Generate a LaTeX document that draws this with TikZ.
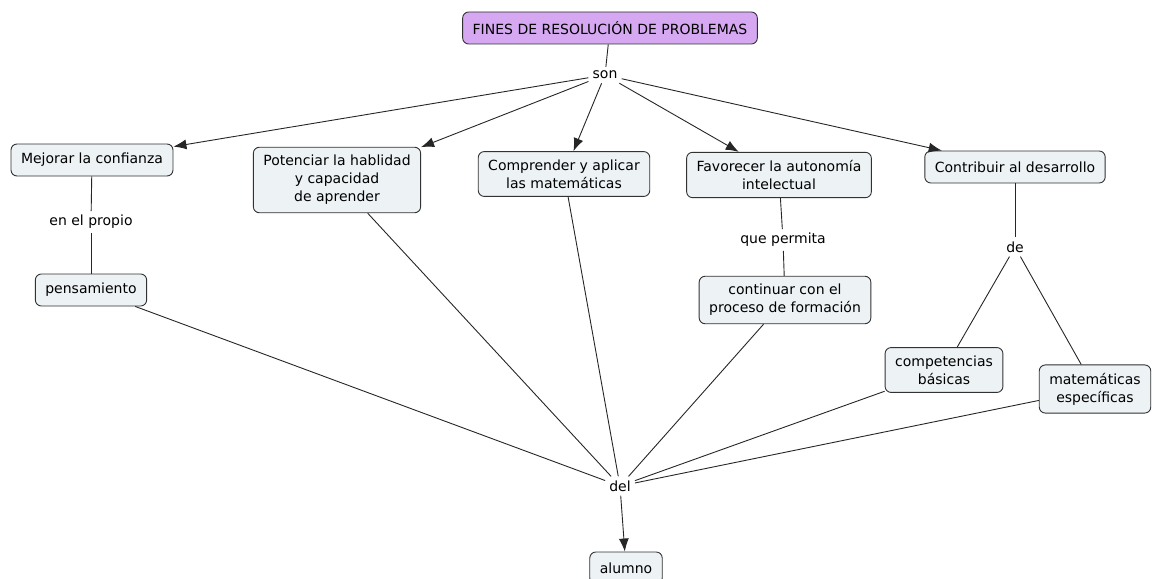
\documentclass[tikz,border=0pt]{standalone}
\usepackage{fontspec}
\setmainfont{DejaVu Sans}
\usetikzlibrary{arrows.meta}
\definecolor{conceptfill}{RGB}{237,242,245}
\definecolor{rootfill}{RGB}{214,168,242}
\definecolor{boxline}{RGB}{50,50,50}
\tikzstyle{concept}=[draw=boxline,line width=0.9pt,fill=conceptfill,rounded corners=6pt,align=center,inner xsep=10pt,inner ysep=8pt,minimum height=32pt,font=\fontsize{14}{18}\selectfont]
\tikzstyle{root concept} = [concept, fill=rootfill]
\tikzstyle{linking}=[inner sep=4pt,font=\fontsize{14}{18}\selectfont]
\tikzstyle{edge} = [draw,line width=0.9pt,black!85]
\tikzstyle{arrow edge} = [edge,-{Latex[length=13pt,width=10pt]}]

\begin{document}
\begin{tikzpicture}[x=1pt,y=-1pt]
    \useasboundingbox (0,0) rectangle (1153,578);
    % First we draw the concepts
    \node[root concept] (fines) at (610,28) {FINES DE RESOLUCIÓN DE PROBLEMAS};
    \foreach \pos/\name/\txt in {{(92,160)/mejorar/Mejorar la confianza}, {(337,180)/potenciar/Potenciar la hablidad\\ y capacidad\\ de aprender}, {(564,174)/comprender/Comprender y aplicar\\ las matemáticas}, {(779,175)/favorecer/Favorecer la autonomía\\ intelectual}, {(1015,167)/contribuir/Contribuir al desarrollo}, {(91,290)/pensamiento/pensamiento}, {(785,300)/continuar/continuar con el\\ proceso de formación}, {(944,370)/competencias/competencias\\ básicas}, {(1095,389)/especificas/matemáticas\\ específicas}, {(626,568)/alumno/alumno}}
        \node[concept] (\name) at \pos {\txt};

    % Then the linking phrases
    \foreach \pos/\name/\txt in {{(605,75)/son/son}, {(91,222)/propio/en el propio}, {(783,240)/permita/que permita}, {(1015,247)/de/de}, {(620,486)/del/del}}
        \node[linking] (\name) at \pos {\txt};

    % Connect concepts with lines
    \foreach \source/\dest in {fines/son, mejorar/propio, propio/pensamiento, favorecer/permita, permita/continuar, contribuir/de, de/competencias, de/especificas, pensamiento/del, potenciar/del, comprender/del, continuar/del, competencias/del, especificas/del}
        \path[edge] (\source) -- (\dest);

    % and the arrows
    \foreach \dest in {mejorar, potenciar, comprender, favorecer, contribuir}
        \path[arrow edge] (son) -- (\dest);
    \path[arrow edge] (del) -- (alumno);
\end{tikzpicture}
\end{document}
